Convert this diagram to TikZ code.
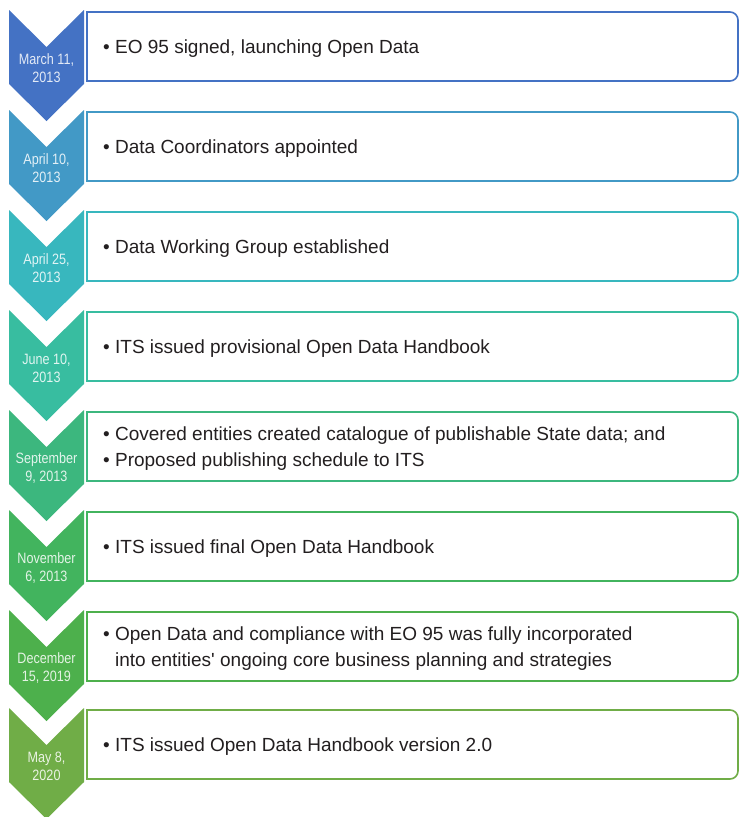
\documentclass[tikz,border=0pt]{standalone}
\usepackage{fontspec}
\setmainfont{Liberation Sans}[Ligatures=TeXOff]
\newfontfamily\condfont[FakeStretch=0.84]{Liberation Sans}
\definecolor{c1}{HTML}{4472C4}
\definecolor{c2}{HTML}{4299C6}
\definecolor{c3}{HTML}{38B7BE}
\definecolor{c4}{HTML}{38BDA0}
\definecolor{c5}{HTML}{3CB77E}
\definecolor{c6}{HTML}{42B45E}
\definecolor{c7}{HTML}{4DB04C}
\definecolor{c8}{HTML}{70AD47}
\definecolor{bodygray}{HTML}{231F20}
\tikzset{
  datetxt/.style={font=\condfont\fontsize{15}{18}\selectfont, align=center, inner sep=0pt},
  bodytxt/.style={font=\fontsize{19}{25.5}\selectfont, text=bodygray, align=left, inner sep=0pt, anchor=west},
  boxline/.style={line width=1.6pt},
}
\newcommand\tlentry[5]{%
  \fill[#3] (9,-#2) -- (46.5,-#2-37) -- (84,-#2) -- (84,-#2-74) -- (46.5,-#2-111) -- (9,-#2-74) -- cycle;
  \draw[#3, boxline] (87,-#2-2) -- (730,-#2-2) arc[start angle=90,end angle=0,radius=8]
     -- (738,-#2-63) arc[start angle=0,end angle=-90,radius=8] -- (87,-#2-71) -- cycle;
  \node[datetxt, text=white!85!#3] (#1d) at (46.5,-#2-58.5) {#4};
  \node[bodytxt] (#1t) at (103,-#2-38.5) {#5};
}
\begin{document}
\begin{tikzpicture}[x=1pt,y=1pt]
\useasboundingbox (0,0) rectangle (740,-817);
\fill[white] (0,0) rectangle (740,-817);
\tlentry{e1}{10}{c1}{March 11,\\2013}{• EO 95 signed, launching Open Data}
\tlentry{e2}{110}{c2}{April 10,\\2013}{• Data Coordinators appointed}
\tlentry{e3}{210}{c3}{April 25,\\2013}{• Data Working Group established}
\tlentry{e4}{310}{c4}{June 10,\\2013}{• ITS issued provisional Open Data Handbook}
\tlentry{e5}{410}{c5}{September\\9, 2013}{• Covered entities created catalogue of publishable State data; and\\• Proposed publishing schedule to ITS}
\tlentry{e6}{510}{c6}{November\\6, 2013}{• ITS issued final Open Data Handbook}
\tlentry{e7}{610}{c7}{December\\15, 2019}{• Open Data and compliance with EO 95 was fully incorporated\\\phantom{• }into entities' ongoing core business planning and strategies}
\tlentry{e8}{708}{c8}{May 8,\\2020}{• ITS issued Open Data Handbook version 2.0}
\end{tikzpicture}
\end{document}
